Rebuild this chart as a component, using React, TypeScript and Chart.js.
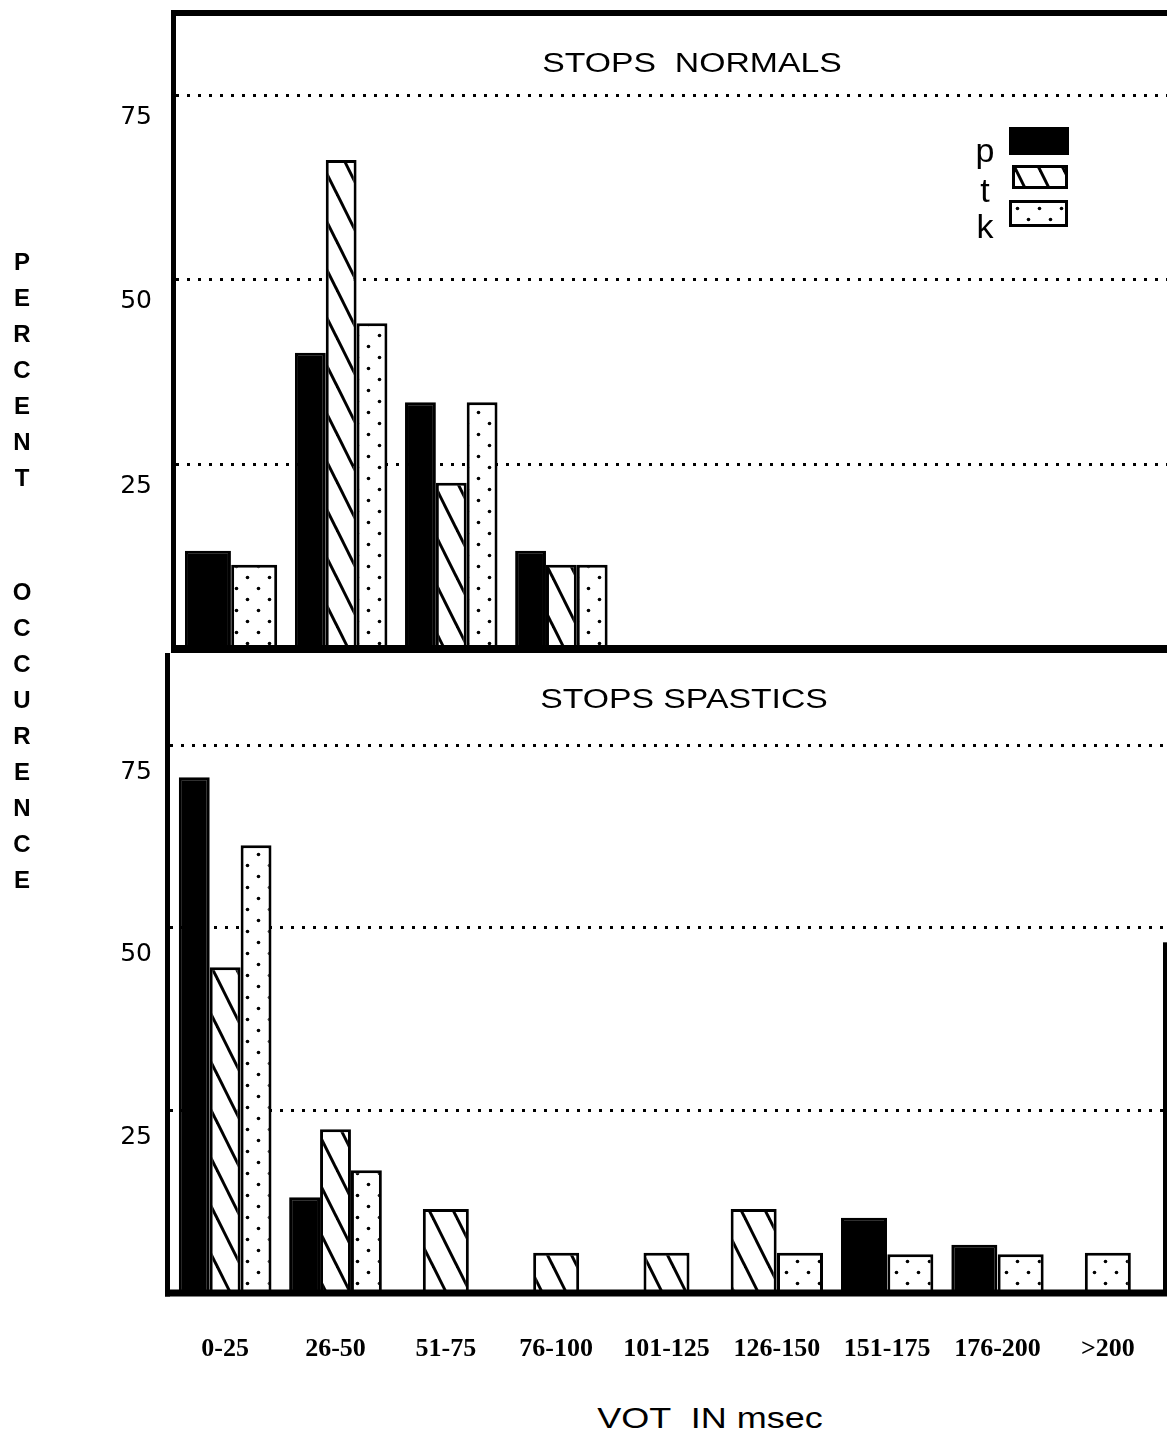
import React, { useEffect, useRef, useState } from 'react';
import { Chart, registerables } from 'chart.js';

Chart.register(...registerables);

// ---------- data ----------
const categories = ['0-25', '26-50', '51-75', '76-100', '101-125', '126-150', '151-175', '176-200', '>200'];
const seriesNames = ['p', 't', 'k'];

const normalsP: (number | null)[] = [13.3, 40.1, 33.4, 13.3, null, null, null, null, null];
const normalsT: (number | null)[] = [null, 66.2, 22.5, 11.4, null, null, null, null, null];
const normalsK: (number | null)[] = [11.4, 44.1, 33.4, 11.4, null, null, null, null, null];

const spasticsP: (number | null)[] = [70.6, 13.1, null, null, null, null, 10.3, 6.6, null];
const spasticsT: (number | null)[] = [44.6, 22.4, 11.5, 5.5, 5.5, 11.5, null, null, null];
const spasticsK: (number | null)[] = [61.3, 16.8, null, null, null, 5.5, 5.3, 5.3, 5.5];

const yTicks = [25, 50, 75];
const panelTitles = ['STOPS  NORMALS', 'STOPS SPASTICS'];
const yTitleTop = 'PERCENT';
const yTitleBottom = 'OCCURENCE';
const xTitle = 'VOT  IN msec';

// ---------- pattern tiles ----------
function makeHatchTile(): HTMLCanvasElement {
  const c = document.createElement('canvas');
  c.width = 24;
  c.height = 48;
  const g = c.getContext('2d')!;
  g.fillStyle = '#fff';
  g.fillRect(0, 0, 24, 48);
  g.strokeStyle = '#000';
  g.lineWidth = 3;
  for (let m = -2; m <= 2; m++) {
    g.beginPath();
    g.moveTo(24 * m - 4, -8);
    g.lineTo(24 * m + 28, 56);
    g.stroke();
  }
  return c;
}

function makeDotTile(): HTMLCanvasElement {
  const c = document.createElement('canvas');
  c.width = 22;
  c.height = 22;
  const g = c.getContext('2d')!;
  g.fillStyle = '#fff';
  g.fillRect(0, 0, 22, 22);
  g.fillStyle = '#000';
  [[5.5, 5.5], [16.5, 16.5]].forEach(([x, y]) => {
    g.beginPath();
    g.arc(x, y, 1.8, 0, Math.PI * 2);
    g.fill();
  });
  return c;
}

// ---------- frame plugin ----------
const framePlugin = {
  id: 'frame',
  afterDatasetsDraw(chart: any, _args: any, opts: any) {
    const { ctx, chartArea: a } = chart;
    const W = chart.width;
    ctx.save();
    ctx.fillStyle = '#000';
    const lw = opts.left || 0;
    const tw = opts.top || 0;
    const bw = opts.bottom || 0;
    if (tw) ctx.fillRect(a.left - lw, a.top - tw, W - a.left + lw, tw);
    if (lw) ctx.fillRect(a.left - lw, a.top - tw, lw, a.bottom - a.top + tw + bw / 2);
    if (bw) ctx.fillRect(a.left - lw, a.bottom - bw / 2, W - a.left + lw, bw);
    if (opts.rightFrom != null) {
      const y = chart.scales.y.getPixelForValue(opts.rightFrom);
      ctx.fillRect(W - 4, y, 4, a.bottom - y);
    }
    ctx.restore();
  },
};

function buildConfig(
  ctx: CanvasRenderingContext2D,
  values: (number | null)[][],
  o: { max: number; axisWidth: number; tickPad: number; labelOffset: number; showX: boolean; pad: any; frame: any }
) {
  const hatch = ctx.createPattern(makeHatchTile(), 'repeat');
  const dots = ctx.createPattern(makeDotTile(), 'repeat');
  const fills = ['#000', hatch, dots];
  return {
    type: 'bar' as const,
    data: {
      labels: categories,
      datasets: seriesNames.map((name, i) => ({
        label: name,
        data: values[i],
        backgroundColor: fills[i],
        borderColor: '#000',
        borderWidth: 3,
        skipNull: true,
        maxBarThickness: 46,
        categoryPercentage: 0.84,
        barPercentage: 1,
      })),
    },
    options: {
      responsive: true,
      maintainAspectRatio: false,
      animation: false as const,
      devicePixelRatio: 1,
      layout: { padding: o.pad },
      plugins: {
        legend: { display: false },
        tooltip: { enabled: false },
        title: { display: false },
        frame: o.frame,
      },
      scales: {
        x: {
          display: o.showX,
          grid: { display: false, drawTicks: false },
          border: { display: false },
          ticks: {
            color: '#000',
            font: { family: 'Liberation Serif', size: 26, weight: 'bold' as const },
            padding: 41,
            maxRotation: 0,
            minRotation: 0,
            autoSkip: false,
          },
          afterFit: (s: any) => {
            if (o.showX) s.height = 100;
            s.paddingLeft = 0;
            s.paddingRight = 0;
          },
        },
        y: {
          min: 0,
          max: o.max,
          afterBuildTicks: (s: any) => {
            s.ticks = yTicks.map((v) => ({ value: v }));
          },
          afterFit: (s: any) => {
            s.width = o.axisWidth;
            s.paddingTop = 0;
            s.paddingBottom = 0;
          },
          grid: { color: '#000', lineWidth: 3, drawTicks: false },
          border: { display: false, dash: [3, 8] },
          ticks: {
            color: '#000',
            font: { family: 'DejaVu Sans', size: 25 },
            padding: o.tickPad,
            labelOffset: o.labelOffset,
          },
        },
      },
    },
    plugins: [framePlugin],
  };
}

export default function App() {
  const topRef = useRef<HTMLCanvasElement>(null);
  const botRef = useRef<HTMLCanvasElement>(null);
  const [tiles, setTiles] = useState<{ hatch: string; dots: string } | null>(null);

  useEffect(() => {
    Chart.defaults.font.family = 'Liberation Sans';
    setTiles({ hatch: makeHatchTile().toDataURL(), dots: makeDotTile().toDataURL() });
    const tctx = topRef.current!.getContext('2d')!;
    const bctx = botRef.current!.getContext('2d')!;
    const c1 = new Chart(
      topRef.current!,
      buildConfig(tctx, [normalsP, normalsT, normalsK], {
        max: 85.7,
        axisWidth: 176,
        tickPad: 24,
        labelOffset: 22,
        showX: false,
        pad: { top: 16, bottom: 11, left: 0, right: 0 },
        frame: { top: 6, left: 5, bottom: 8 },
      }) as any
    );
    const c2 = new Chart(
      botRef.current!,
      buildConfig(bctx, [spasticsP, spasticsT, spasticsK], {
        max: 87.6,
        axisWidth: 170,
        tickPad: 18,
        labelOffset: 27,
        showX: true,
        pad: { top: 13, bottom: 0, left: 0, right: 4 },
        frame: { top: 0, left: 5, bottom: 7, rightFrom: 48 },
      }) as any
    );
    return () => {
      c1.destroy();
      c2.destroy();
    };
  }, []);

  const letterCol = (text: string, top: number) => (
    <div
      style={{
        position: 'absolute',
        left: 8,
        top,
        width: 28,
        textAlign: 'center',
        fontFamily: 'Liberation Sans',
        fontWeight: 'bold',
        fontSize: 24,
        lineHeight: '36px',
        color: '#000',
      }}
    >
      {text.split('').map((ch, i) => (
        <div key={i}>{ch}</div>
      ))}
    </div>
  );

  const titleStyle = (cx: number, top: number, size: number, sx: number): React.CSSProperties => ({
    position: 'absolute',
    left: cx - 250,
    top,
    width: 500,
    textAlign: 'center',
    fontFamily: 'Liberation Sans',
    fontSize: size,
    lineHeight: 1,
    whiteSpace: 'pre',
    color: '#000',
    transform: `scaleX(${sx})`,
    transformOrigin: 'center',
  });

  const legendLetter = (ch: string, top: number) => (
    <div
      style={{
        position: 'absolute',
        left: 972,
        top,
        width: 26,
        textAlign: 'center',
        fontFamily: 'Liberation Sans',
        fontSize: 34,
        lineHeight: 1,
        color: '#000',
      }}
    >
      {ch}
    </div>
  );

  return (
    <div
      style={{
        position: 'absolute',
        left: 0,
        top: 0,
        width: 1167,
        height: 1438,
        overflow: 'hidden',
        background: '#fff',
      }}
    >
      <div style={{ position: 'absolute', left: 0, top: 0, width: 1167, height: 660 }}>
        <canvas ref={topRef} />
      </div>
      <div style={{ position: 'absolute', left: 0, top: 640, width: 1167, height: 753 }}>
        <canvas ref={botRef} />
      </div>

      <div style={titleStyle(692, 50, 27, 1.25)}>{panelTitles[0]}</div>
      <div style={titleStyle(684, 686, 27, 1.25)}>{panelTitles[1]}</div>

      {letterCol(yTitleTop, 244)}
      {letterCol(yTitleBottom, 574)}

      <div style={titleStyle(710, 1403, 30, 1.2)}>{xTitle}</div>

      {legendLetter(seriesNames[0], 133)}
      {legendLetter(seriesNames[1], 173)}
      {legendLetter(seriesNames[2], 209)}
      <div style={{ position: 'absolute', left: 1009, top: 127, width: 60, height: 28, background: '#000' }} />
      <div
        style={{
          position: 'absolute',
          left: 1012,
          top: 165,
          width: 56,
          height: 24,
          boxSizing: 'border-box',
          border: '3px solid #000',
          backgroundImage: tiles ? `url(${tiles.hatch})` : undefined,
        }}
      />
      <div
        style={{
          position: 'absolute',
          left: 1009,
          top: 200,
          width: 59,
          height: 27,
          boxSizing: 'border-box',
          border: '3px solid #000',
          backgroundImage: tiles ? `url(${tiles.dots})` : undefined,
        }}
      />
    </div>
  );
}
